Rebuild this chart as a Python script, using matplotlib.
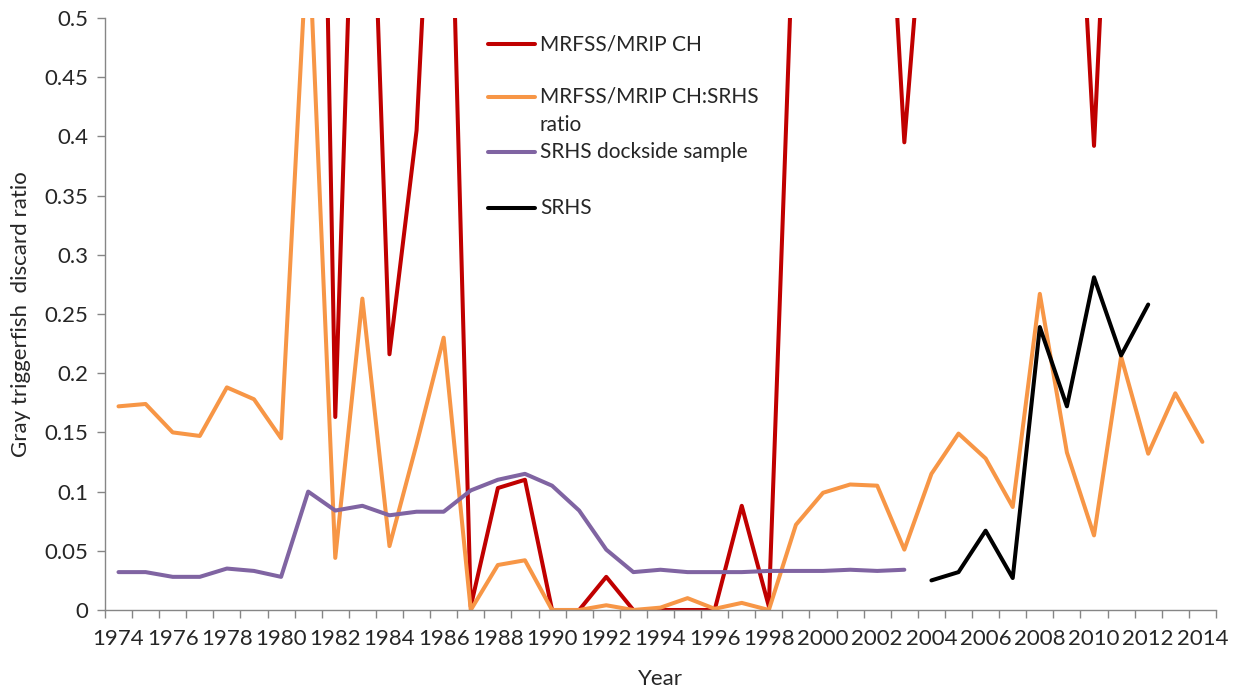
import numpy as np
import matplotlib.pyplot as plt

years = list(range(1974, 2015))

# MRFSS/MRIP CH (values above 0.5 run off the top of the chart)
mrip_ch = [np.nan] * 7 + [
    1.40, 0.163, 0.88, 0.216, 0.405, 0.86, 0.003, 0.103, 0.110, 0.0,
    0.0, 0.028, 0.0, 0.0, 0.0, 0.0, 0.088, 0.003, 0.64, 0.90,
    0.90, 0.80, 0.395, 0.68, 0.90, 0.90, 0.90, 0.90, 0.81, 0.392,
    0.88, 0.90, np.nan, np.nan]

ratio = [0.172, 0.174, 0.150, 0.147, 0.188, 0.178, 0.145, 0.58, 0.044, 0.263,
         0.054, 0.140, 0.230, 0.0, 0.038, 0.042, 0.0, 0.0, 0.004, 0.0,
         0.002, 0.010, 0.001, 0.006, 0.0, 0.072, 0.099, 0.106, 0.105, 0.051,
         0.115, 0.149, 0.128, 0.087, 0.267, 0.133, 0.063, 0.214, 0.132, 0.183,
         0.142]

dockside = [0.032, 0.032, 0.028, 0.028, 0.035, 0.033, 0.028, 0.100, 0.084, 0.088,
            0.080, 0.083, 0.083, 0.101, 0.110, 0.115, 0.105, 0.084, 0.051, 0.032,
            0.034, 0.032, 0.032, 0.032, 0.033, 0.033, 0.033, 0.034, 0.033, 0.034] + [np.nan] * 11

srhs = [np.nan] * 30 + [0.025, 0.032, 0.067, 0.027, 0.239, 0.172, 0.281, 0.215, 0.258,
                        np.nan, np.nan]

names = ["MRFSS/MRIP CH", "MRFSS/MRIP CH:SRHS\nratio", "SRHS dockside sample", "SRHS"]
colors = ["#C00000", "#F79646", "#8064A2", "#000000"]

plt.rcParams['font.family'] = ['Lato', 'DejaVu Sans']
txt = "#262626"
axc = "#868686"

fig = plt.figure(figsize=(12.39, 6.92), dpi=100)
ax = fig.add_axes([0.0847, 0.1185, 0.8967, 0.8555])

x = np.arange(len(years))
for vals, c in zip([mrip_ch, ratio, dockside, srhs], colors):
    ax.plot(x, vals, color=c, lw=2.9, solid_joinstyle='round', solid_capstyle='round')

ax.set_xlim(-0.5, len(years) - 0.5)
ax.set_ylim(0, 0.5)

# category axis: tick marks between categories, labels every second year
ax.set_xticks(np.arange(-0.5, len(years)), minor=True)
ax.set_xticks(x[::2])
ax.set_xticklabels([str(y) for y in years[::2]])
ax.tick_params(axis='x', which='major', length=0, labelsize=16, colors=txt, pad=14)
ax.tick_params(axis='x', which='minor', length=6, color=axc, width=1)

yt = np.arange(0, 0.501, 0.05)
ax.set_yticks(yt)
ax.set_yticklabels(["0"] + ["%g" % round(v, 2) for v in yt[1:]])
ax.tick_params(axis='y', length=6, color=axc, width=1, labelsize=16, colors=txt, pad=6)
for lab in ax.get_xticklabels() + ax.get_yticklabels():
    lab.set_color(txt)

for s in ['top', 'right']:
    ax.spines[s].set_visible(False)
for s in ['left', 'bottom']:
    ax.spines[s].set_color(axc)
    ax.spines[s].set_linewidth(1)

ax.set_xlabel("Year", fontsize=16, color=txt, labelpad=14)
ax.set_ylabel("Gray triggerfish  discard ratio", fontsize=16, color=txt, labelpad=10)

# legend drawn inside the plot area
leg_y = [0.956, 0.8666, 0.774, 0.679]
for name, c, yy in zip(names, colors, leg_y):
    ax.plot([0.345, 0.387], [yy, yy], transform=ax.transAxes, color=c, lw=2.9,
            solid_capstyle='round', clip_on=False)
    lines = name.split('\n')
    for i, part in enumerate(lines):
        ax.text(0.3915, yy - i * 0.047, part, transform=ax.transAxes, fontsize=15,
                color=txt, va='center')

fig.savefig("out.png", dpi=100)
